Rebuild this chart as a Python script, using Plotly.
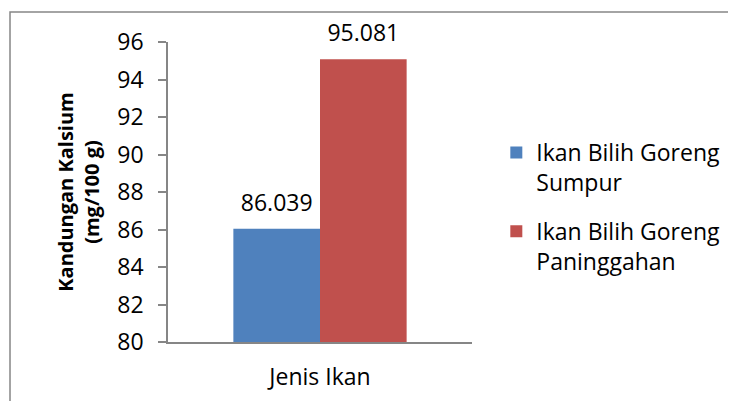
import plotly.graph_objects as go

categories = ["Jenis Ikan"]
series_names = ["Ikan Bilih Goreng<br>Sumpur", "Ikan Bilih Goreng<br>Paninggahan"]
series_values = [[86.039], [95.081]]
series_colors = ["#4F81BD", "#C0504D"]
y_ticks = [80, 82, 84, 86, 88, 90, 92, 94, 96]
y_title = "<b>Kandungan Kalsium<br>(mg/100 g)</b>"

FONT = "Open Sans"
FS = 23
fig = go.Figure()
for i, (name, vals, col) in enumerate(zip(series_names, series_values, series_colors)):
    fig.add_trace(go.Bar(
        x=categories, y=vals, name=name, legendgroup=f"g{i}", offsetgroup=f"g{i}",
        marker=dict(color=col, line=dict(width=0)),
    ))
for i, vals in enumerate(series_values):
    fig.add_trace(go.Scatter(
        x=categories, y=vals, mode="markers+text", offsetgroup=f"g{i}",
        legendgroup=f"g{i}", showlegend=False, hoverinfo="skip",
        marker=dict(size=18, opacity=0),
        text=[f"{v:.3f}" for v in vals], textposition="top center",
        textfont=dict(family=FONT, size=FS, color="#000000"),
        cliponaxis=False,
    ))

fig.update_layout(
    width=728, height=393,
    margin=dict(l=160, r=264, t=34, b=59, autoexpand=False),
    paper_bgcolor="white", plot_bgcolor="white",
    barmode="group", scattermode="group", bargap=0.43, bargroupgap=0,
    font=dict(family=FONT, size=FS, color="#000000"),
    showlegend=True,
    legend=dict(x=1.08, xanchor="left", y=0.45, yanchor="middle",
                font=dict(family=FONT, size=FS, color="#000000"),
                valign="top", tracegroupgap=16, bgcolor="rgba(0,0,0,0)"),
    xaxis=dict(showline=True, linecolor="#868686", linewidth=1.5,
               ticks="", ticklabelstandoff=14, showgrid=False),
    yaxis=dict(range=[80, 96], tickvals=y_ticks, showline=True, linecolor="#868686",
               linewidth=1.5, ticks="outside", ticklen=8, tickcolor="#868686", tickwidth=1.5,
               showgrid=False, zeroline=False, ticklabelstandoff=10,
               title=dict(text=y_title, font=dict(family=FONT, size=20, color="#000000"), standoff=12)),
    shapes=[dict(type="path", xref="paper", yref="paper",
                 path="M -0.5197,-0.21 L -0.5197,1.1003 L 1.87,1.1003",
                 line=dict(color="#868686", width=1.5))],
)

fig.write_html("out.html")
